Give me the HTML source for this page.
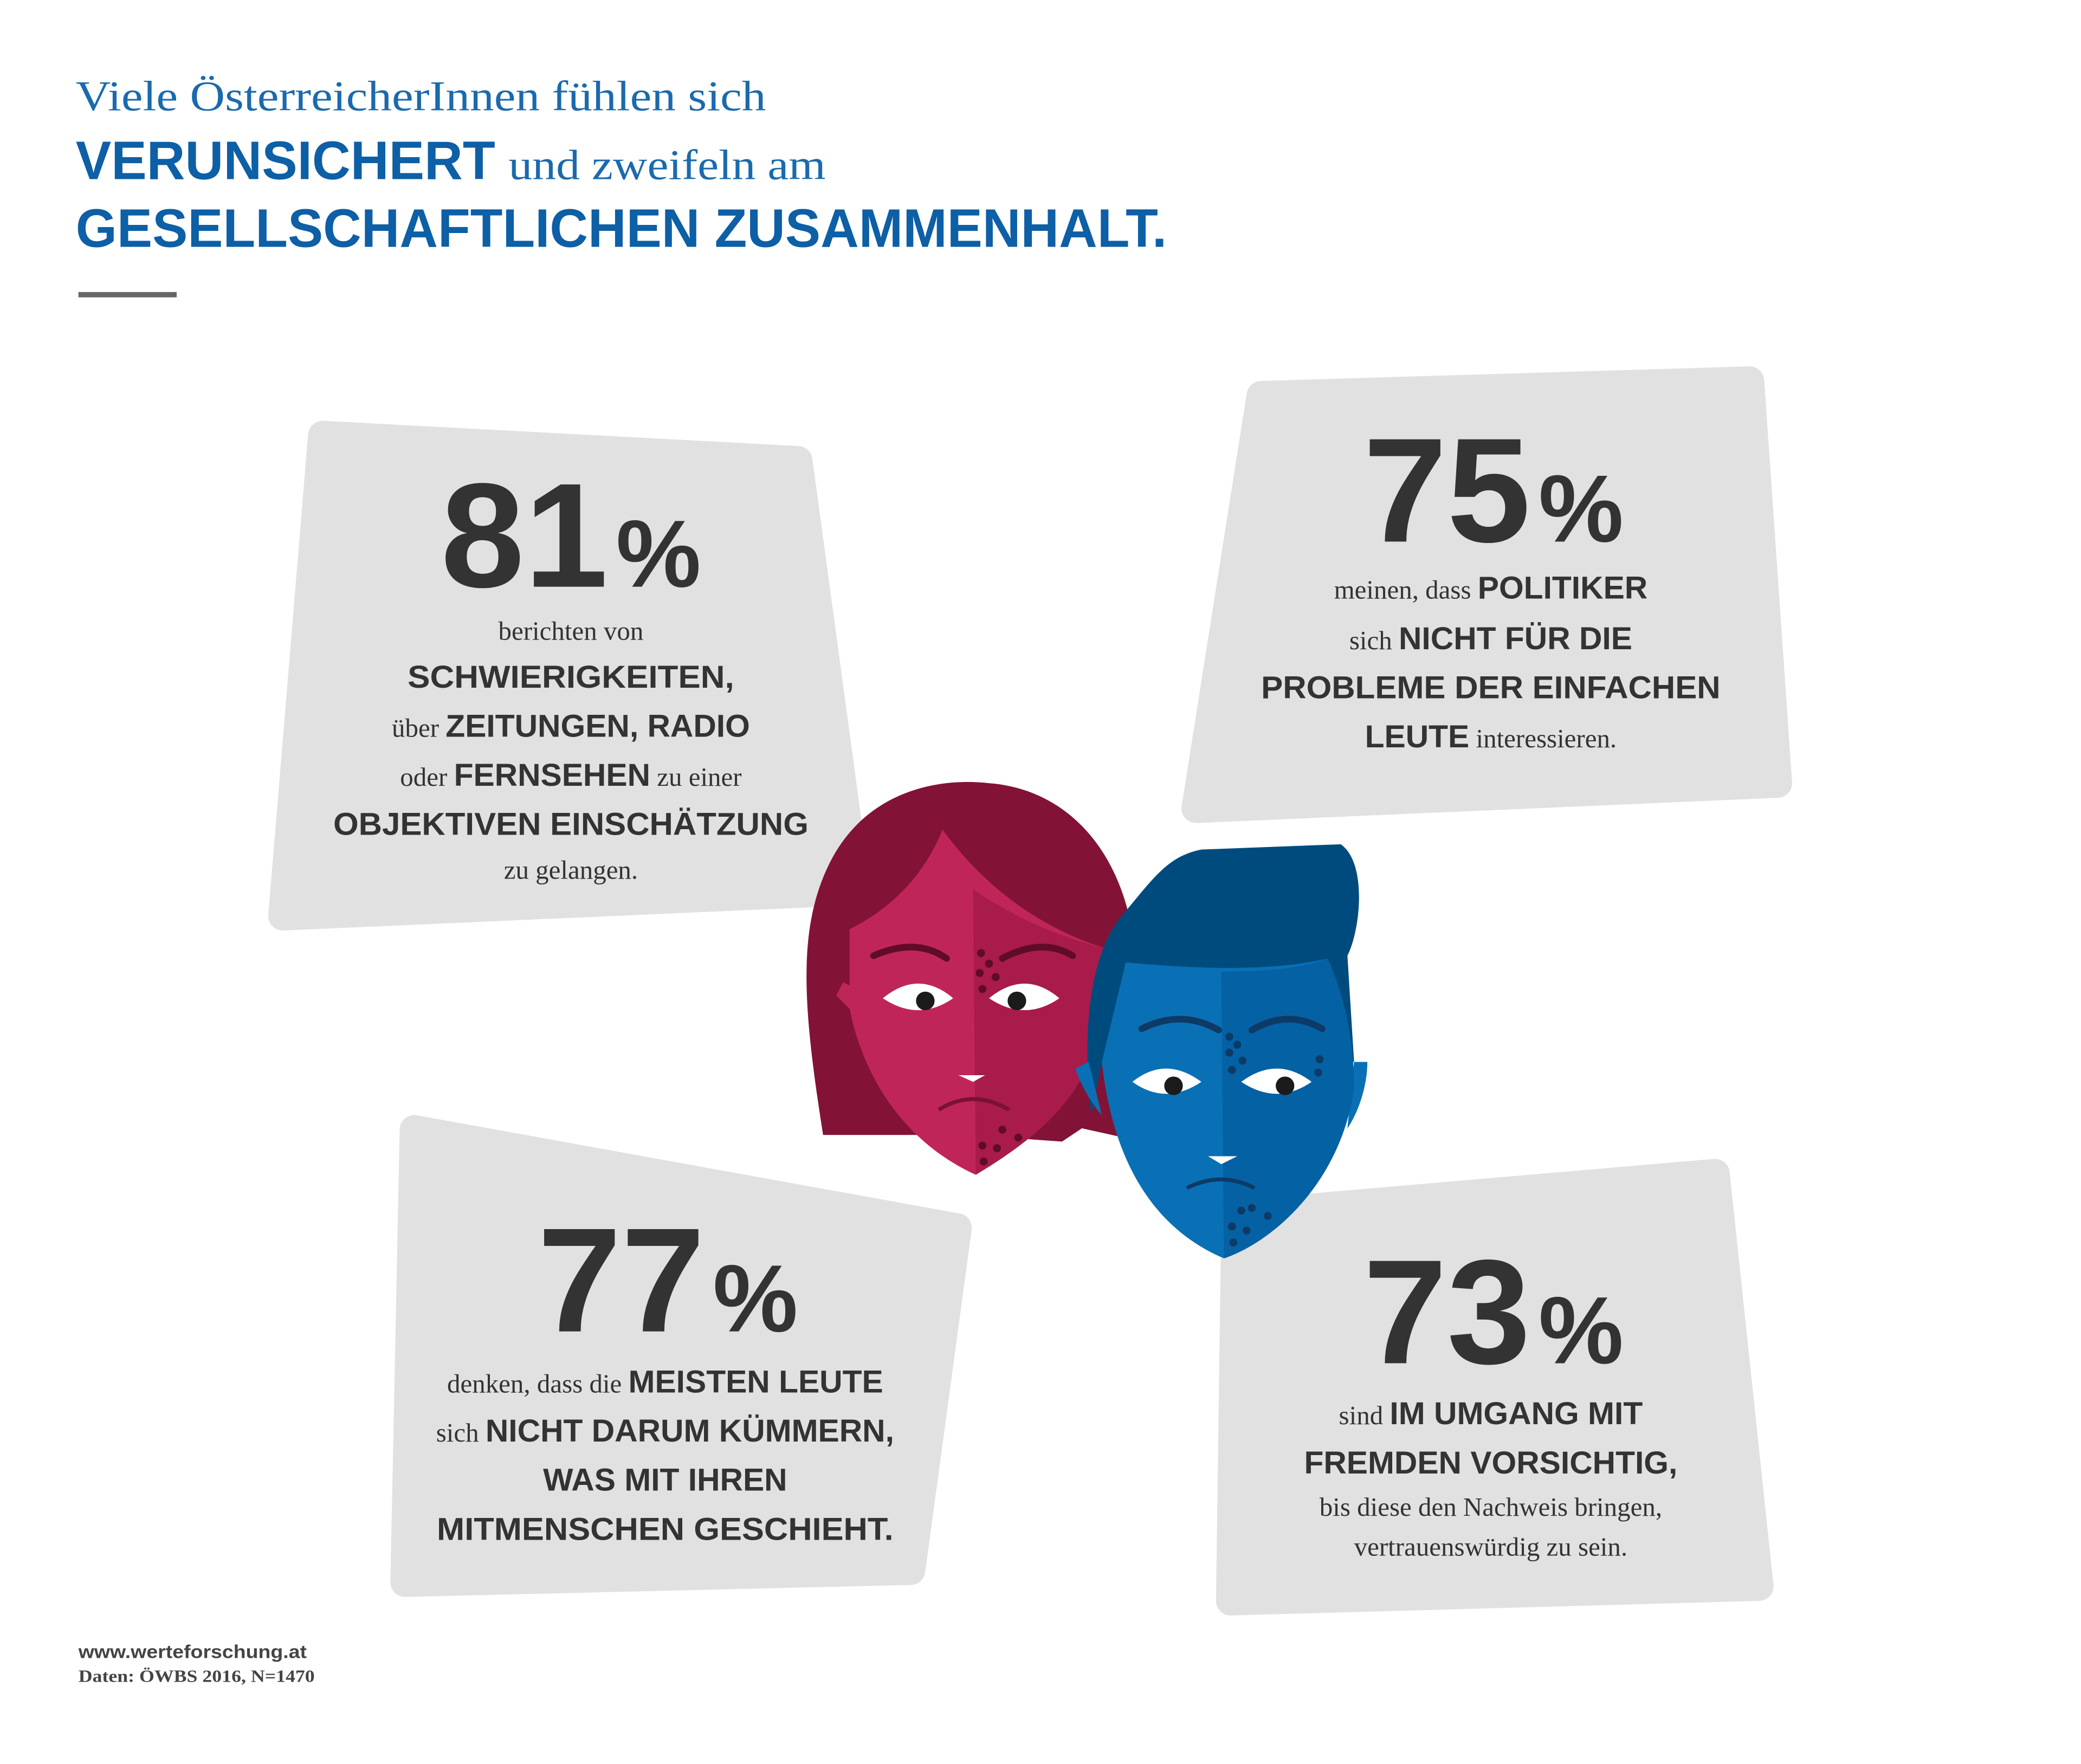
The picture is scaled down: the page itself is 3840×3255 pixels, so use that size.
<!DOCTYPE html>
<html><head><meta charset="utf-8"><style>
html,body{margin:0;padding:0;background:#fff}
svg{display:block}
.ser{font-family:"Liberation Serif",serif}
.bold{font-family:"Liberation Sans",sans-serif;font-weight:bold}
</style></head><body>
<svg width="3840" height="3255" viewBox="0 0 1550 1314" xmlns="http://www.w3.org/2000/svg">
<rect width="1550" height="1314" fill="#fff"/>
<g transform="scale(0.9888)">
<g fill="#0d5fa6">
<text x="57" y="83" class="ser" font-size="32" fill="#1a6aad" textLength="520" lengthAdjust="spacingAndGlyphs">Viele ÖsterreicherInnen fühlen sich</text>
<text x="57" y="135" font-size="41"><tspan class="bold" textLength="316" lengthAdjust="spacingAndGlyphs">VERUNSICHERT</tspan><tspan class="ser" font-size="32" fill="#1a6aad" x="383" textLength="239" lengthAdjust="spacingAndGlyphs">und zweifeln am</tspan></text>
<text x="57" y="186" class="bold" font-size="41" textLength="822" lengthAdjust="spacingAndGlyphs">GESELLSCHAFTLICHEN ZUSAMMENHALT.</text>
</g>
<rect x="59" y="220" width="74" height="4" fill="#666"/>

<g fill="#e1e1e1" stroke="#e1e1e1" stroke-width="22" stroke-linejoin="round">
<polygon points="243,328 601,347 645,671 213,690"/>
<polygon points="950,298 1318,287 1339,590 901,609"/>
<polygon points="312,851 721,925 686,1183 305,1192"/>
<polygon points="931,915 1292,884 1325,1195 927,1206"/>
</g>

<g fill="#333" text-anchor="middle">
<g>
<text x="430" y="442" class="bold"><tspan font-size="112" textLength="126" lengthAdjust="spacingAndGlyphs">81</tspan><tspan font-size="72" dx="6">%</tspan></text>
<text x="430" y="482" class="ser" font-size="20">berichten von</text>
<text x="430" y="518" class="bold" font-size="24" textLength="246" lengthAdjust="spacingAndGlyphs">SCHWIERIGKEITEN,</text>
<text x="430" y="555"><tspan class="ser" font-size="20">über </tspan><tspan class="bold" font-size="24">ZEITUNGEN, RADIO</tspan></text>
<text x="430" y="592"><tspan class="ser" font-size="20">oder </tspan><tspan class="bold" font-size="24">FERNSEHEN</tspan><tspan class="ser" font-size="20"> zu einer</tspan></text>
<text x="430" y="629" class="bold" font-size="24" textLength="358" lengthAdjust="spacingAndGlyphs">OBJEKTIVEN EINSCHÄTZUNG</text>
<text x="430" y="662" class="ser" font-size="20">zu gelangen.</text>
</g>
<g>
<text x="1125" y="408" class="bold"><tspan font-size="112" textLength="126" lengthAdjust="spacingAndGlyphs">75</tspan><tspan font-size="72" dx="6">%</tspan></text>
<text x="1123" y="451"><tspan class="ser" font-size="20">meinen, dass </tspan><tspan class="bold" font-size="24">POLITIKER</tspan></text>
<text x="1123" y="489"><tspan class="ser" font-size="20">sich </tspan><tspan class="bold" font-size="24">NICHT FÜR DIE</tspan></text>
<text x="1123" y="526" class="bold" font-size="24" textLength="346" lengthAdjust="spacingAndGlyphs">PROBLEME DER EINFACHEN</text>
<text x="1123" y="563"><tspan class="bold" font-size="24">LEUTE</tspan><tspan class="ser" font-size="20"> interessieren.</tspan></text>
</g>
<g>
<text x="503" y="1003" class="bold"><tspan font-size="112" textLength="126" lengthAdjust="spacingAndGlyphs">77</tspan><tspan font-size="72" dx="6">%</tspan></text>
<text x="501" y="1049"><tspan class="ser" font-size="20">denken, dass die </tspan><tspan class="bold" font-size="24">MEISTEN LEUTE</tspan></text>
<text x="501" y="1086"><tspan class="ser" font-size="20">sich </tspan><tspan class="bold" font-size="24">NICHT DARUM KÜMMERN,</tspan></text>
<text x="501" y="1123" class="bold" font-size="24">WAS MIT IHREN</text>
<text x="501" y="1160" class="bold" font-size="24" textLength="344" lengthAdjust="spacingAndGlyphs">MITMENSCHEN GESCHIEHT.</text>
</g>
<g>
<text x="1125" y="1027" class="bold"><tspan font-size="112" textLength="126" lengthAdjust="spacingAndGlyphs">73</tspan><tspan font-size="72" dx="6">%</tspan></text>
<text x="1123" y="1073"><tspan class="ser" font-size="20">sind </tspan><tspan class="bold" font-size="24">IM UMGANG MIT</tspan></text>
<text x="1123" y="1110" class="bold" font-size="24">FREMDEN VORSICHTIG,</text>
<text x="1123" y="1142" class="ser" font-size="20">bis diese den Nachweis bringen,</text>
<text x="1123" y="1172" class="ser" font-size="20">vertrauenswürdig zu sein.</text>
</g>
</g>

<g>
<path d="M620,855 C605,760 600,700 625,650 C650,600 700,585 745,590 C810,595 850,650 855,720 L860,860 L815,850 L800,860 L730,855 Z" fill="#821336"/>
<path d="M640,700 C680,680 700,650 710,625 C750,680 800,705 835,715 C835,800 810,840 735,885 C680,860 650,810 640,760 Z" fill="#c0255a"/>
<path d="M733,670 C770,695 805,708 835,715 C835,800 810,840 735,885 Z" fill="#a81b4b"/>
<path d="M665,755 L640,760 L630,750 L635,740 L645,745 Z" fill="#c0255a"/>
<path d="M658,720 Q690,706 713,722" stroke="#5f0c27" stroke-width="5" fill="none" stroke-linecap="round"/>
<path d="M755,722 Q785,706 808,720" stroke="#5f0c27" stroke-width="5" fill="none" stroke-linecap="round"/>
<path d="M665,752 Q692,730 718,752 Q692,770 665,752Z" fill="#fff"/>
<path d="M745,752 Q772,730 798,752 Q772,770 745,752Z" fill="#fff"/>
<circle cx="697" cy="754" r="7" fill="#1b1b1b"/><circle cx="766" cy="754" r="7" fill="#1b1b1b"/>
<path d="M722,810 L742,810 L733,815Z" fill="#fff"/>
<path d="M707,836 Q733,820 760,836" stroke="#7a1231" stroke-width="3" fill="none"/>
<g fill="#5f0c27"><circle cx="739" cy="718" r="3"/><circle cx="745" cy="726" r="3"/><circle cx="738" cy="733" r="3"/><circle cx="750" cy="736" r="3"/><circle cx="740" cy="745" r="3"/><circle cx="755" cy="851" r="3"/><circle cx="767" cy="857" r="3"/><circle cx="740" cy="863" r="3"/><circle cx="751" cy="865" r="3"/><circle cx="741" cy="875" r="3"/></g>
</g>

<g>
<path d="M822,840 C815,780 820,720 845,690 C870,660 880,645 905,640 L1010,636 C1030,650 1025,700 1015,720 L1020,800 L830,800 Z" fill="#004b7e"/>
<path d="M820,800 L810,805 C815,820 825,835 830,840 Z" fill="#0a70b5"/>
<path d="M1020,800 L1030,800 C1030,820 1022,840 1015,850 Z" fill="#0a70b5"/>
<path d="M848,725 C900,730 960,732 1000,722 C1015,755 1020,790 1020,820 C1010,890 960,935 922,948 C880,930 840,890 830,800 Z" fill="#0a70b5"/>
<path d="M920,732 C960,732 985,728 1000,722 C1015,755 1020,790 1020,820 C1010,890 960,935 922,948 Z" fill="#0461a4"/>
<path d="M860,775 Q890,760 918,776" stroke="#0d3a66" stroke-width="5" fill="none" stroke-linecap="round"/>
<path d="M943,776 Q970,760 996,775" stroke="#0d3a66" stroke-width="5" fill="none" stroke-linecap="round"/>
<path d="M853,815 Q878,795 905,815 Q878,833 853,815Z" fill="#fff"/>
<path d="M935,815 Q962,795 988,815 Q962,833 935,815Z" fill="#fff"/>
<circle cx="884" cy="818" r="7" fill="#1b1b1b"/><circle cx="968" cy="818" r="7" fill="#1b1b1b"/>
<path d="M910,871 L932,871 L920,877Z" fill="#fff"/>
<path d="M894,895 Q920,882 945,895" stroke="#0d3a66" stroke-width="3" fill="none"/>
<g fill="#0d3a66"><circle cx="926" cy="781" r="3"/><circle cx="932" cy="787" r="3"/><circle cx="926" cy="793" r="3"/><circle cx="936" cy="799" r="3"/><circle cx="928" cy="806" r="3"/><circle cx="994" cy="798" r="3"/><circle cx="993" cy="808" r="3"/><circle cx="935" cy="912" r="3"/><circle cx="943" cy="910" r="3"/><circle cx="955" cy="916" r="3"/><circle cx="928" cy="924" r="3"/><circle cx="939" cy="927" r="3"/><circle cx="929" cy="936" r="3"/></g>
</g>

<g fill="#444">
<text x="59" y="1249" class="bold" font-size="14" textLength="172" lengthAdjust="spacingAndGlyphs">www.werteforschung.at</text>
<text x="59" y="1267" class="ser" font-weight="bold" font-size="13" textLength="178" lengthAdjust="spacingAndGlyphs">Daten: ÖWBS 2016, N=1470</text>
</g>
</g>
</svg>
</body></html>
